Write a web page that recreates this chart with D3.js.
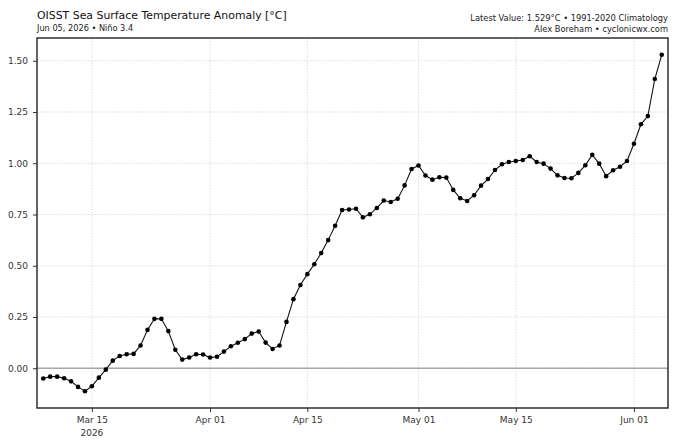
<!DOCTYPE html>
<html>
<head>
<meta charset="utf-8">
<script src="https://cdn.jsdelivr.net/npm/d3@7"></script>
<style>
  html, body { margin: 0; padding: 0; background: #fff; }
  svg { display: block; font-family: "DejaVu Sans", sans-serif; }
</style>
</head>
<body>
<svg id="chart" width="680" height="440"></svg>
<script>
// ---- Data ----
const startDate = "2026-03-08";
const anomalies = [
  -0.050, -0.041, -0.041, -0.049, -0.064, -0.091, -0.112, -0.088, -0.046, -0.007,
   0.037,  0.060,  0.068,  0.070,  0.111,  0.187,  0.241,  0.241,  0.181,  0.090,
   0.042,  0.052,  0.068,  0.067,  0.052,  0.056,  0.081,  0.107,  0.124,  0.142,
   0.169,  0.179,  0.125,  0.094,  0.111,  0.226,  0.337,  0.406,  0.459,  0.507,
   0.562,  0.625,  0.695,  0.772,  0.774,  0.778,  0.736,  0.751,  0.782,  0.818,
   0.811,  0.827,  0.892,  0.972,  0.989,  0.940,  0.920,  0.932,  0.930,  0.870,
   0.829,  0.816,  0.844,  0.891,  0.923,  0.967,  0.995,  1.006,  1.011,  1.016,
   1.034,  1.006,  0.998,  0.974,  0.941,  0.928,  0.927,  0.953,  0.990,  1.041,
   0.998,  0.937,  0.966,  0.983,  1.011,  1.095,  1.190,  1.230,  1.411,  1.529
];
const yTicks = [0.00, 0.25, 0.50, 0.75, 1.00, 1.25, 1.50];
const xTickDates = ["2026-03-15", "2026-04-01", "2026-04-15", "2026-05-01", "2026-05-15", "2026-06-01"];
const xTickLabels = ["Mar 15", "Apr 01", "Apr 15", "May 01", "May 15", "Jun 01"];
const yearLabel = "2026";
const titleText = "OISST Sea Surface Temperature Anomaly [°C]";
const subtitleText = "Jun 05, 2026 • Niño 3.4";
const rightLine1 = "Latest Value: 1.529°C • 1991-2020 Climatology";
const rightLine2 = "Alex Boreham • cyclonicwx.com";

// ---- Build ----
const parse = d3.timeParse("%Y-%m-%d");
const DAY = 86400000;
const t0 = parse(startDate);
const data = anomalies.map((v, i) => ({ date: new Date(t0.getTime() + i * DAY), value: v }));

const svg = d3.select("#chart");
const W = 680, H = 440;
const m = { left: 37, right: 12, top: 38, bottom: 32 };
const pw = W - m.left - m.right, ph = H - m.top - m.bottom;

const first = data[0].date, last = data[data.length - 1].date;
const x = d3.scaleTime()
  .domain([new Date(first.getTime() - 0.9 * DAY), new Date(last.getTime() + 0.9 * DAY)])
  .range([m.left, m.left + pw]);
const yMin = d3.min(anomalies), yMax = d3.max(anomalies);
const pad = (yMax - yMin) * 0.05;
const y = d3.scaleLinear().domain([yMin - pad, yMax + pad]).range([m.top + ph, m.top]);

const g = svg.append("g");

// gridlines
g.append("g").selectAll("line.gx").data(xTickDates.map(parse)).join("line")
  .attr("x1", d => x(d)).attr("x2", d => x(d))
  .attr("y1", m.top).attr("y2", m.top + ph)
  .attr("stroke", "#d0d0d0").attr("stroke-width", 0.7).attr("stroke-dasharray", "1.5,1.5");
g.append("g").selectAll("line.gy").data(yTicks).join("line")
  .attr("x1", m.left).attr("x2", m.left + pw)
  .attr("y1", d => y(d)).attr("y2", d => y(d))
  .attr("stroke", "#d0d0d0").attr("stroke-width", 0.7).attr("stroke-dasharray", "1.5,1.5");

// zero line
g.append("line")
  .attr("x1", m.left).attr("x2", m.left + pw)
  .attr("y1", y(0)).attr("y2", y(0))
  .attr("stroke", "#a8a8a8").attr("stroke-width", 1.5);

// line + markers
const line = d3.line().x(d => x(d.date)).y(d => y(d.value));
g.append("path").datum(data).attr("d", line)
  .attr("fill", "none").attr("stroke", "#111").attr("stroke-width", 1.1);
g.append("g").selectAll("circle").data(data).join("circle")
  .attr("cx", d => x(d.date)).attr("cy", d => y(d.value)).attr("r", 2.3)
  .attr("fill", "#000");

// axes
const xAxis = d3.axisBottom(x)
  .tickValues(xTickDates.map(parse))
  .tickFormat((d, i) => xTickLabels[i])
  .tickSize(4).tickPadding(5);
const xg = svg.append("g").attr("transform", `translate(0,${m.top + ph})`).call(xAxis);
xg.select(".domain").remove();
xg.selectAll("line").attr("stroke", "#333");
xg.selectAll("text").attr("font-size", 9).attr("fill", "#333").attr("font-family", "DejaVu Sans");
// year under first tick
svg.append("text").attr("x", x(parse(xTickDates[0]))).attr("y", m.top + ph + 28)
  .attr("text-anchor", "middle").attr("font-size", 9).attr("fill", "#333").text(yearLabel);

const yAxis = d3.axisLeft(y).tickValues(yTicks).tickFormat(d3.format(".2f")).tickSize(4).tickPadding(5);
const yg = svg.append("g").attr("transform", `translate(${m.left},0)`).call(yAxis);
yg.select(".domain").remove();
yg.selectAll("line").attr("stroke", "#333");
yg.selectAll("text").attr("font-size", 9).attr("fill", "#333").attr("font-family", "DejaVu Sans");

// frame
svg.append("rect").attr("x", m.left).attr("y", m.top).attr("width", pw).attr("height", ph)
  .attr("fill", "none").attr("stroke", "#222").attr("stroke-width", 1.4);

// titles
svg.append("text").attr("x", m.left).attr("y", 19).attr("font-size", 10.9).attr("fill", "#111").text(titleText);
svg.append("text").attr("x", m.left).attr("y", 31).attr("font-size", 8.2).attr("fill", "#222").text(subtitleText);
svg.append("text").attr("x", m.left + pw).attr("y", 21).attr("text-anchor", "end").attr("font-size", 8.3).attr("fill", "#222").text(rightLine1);
svg.append("text").attr("x", m.left + pw).attr("y", 32).attr("text-anchor", "end").attr("font-size", 8.3).attr("fill", "#222").text(rightLine2);
</script>
</body>
</html>
